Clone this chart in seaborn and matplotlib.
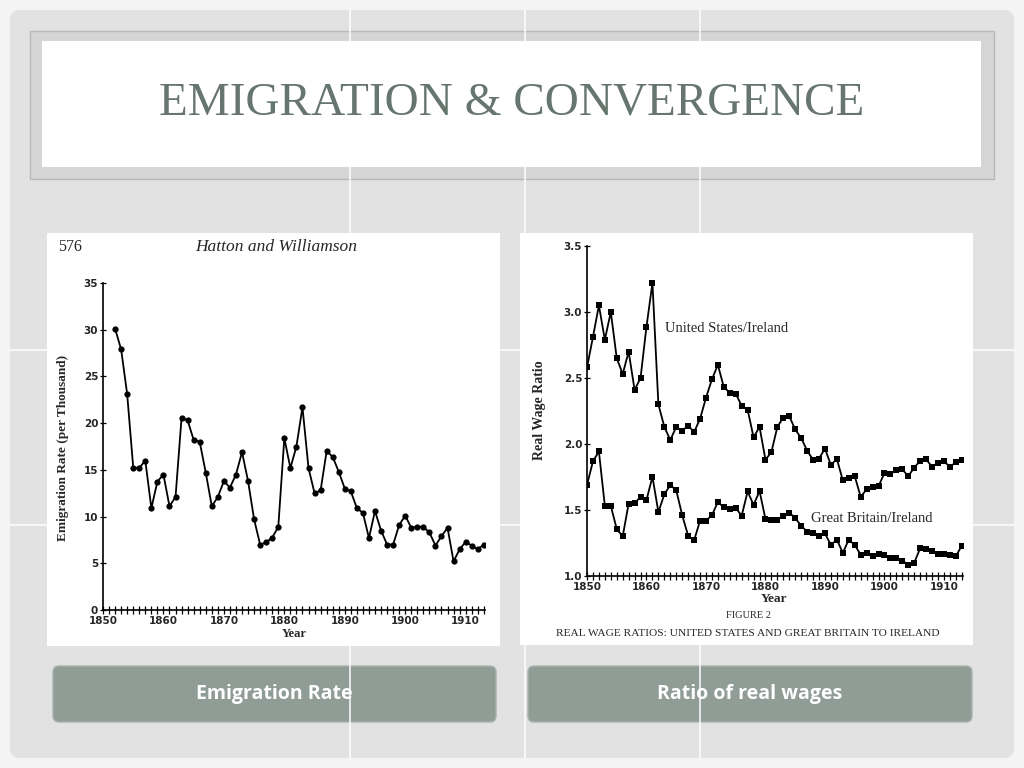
import matplotlib
matplotlib.use("Agg")
import matplotlib.pyplot as plt
import seaborn as sns
from matplotlib.patches import Rectangle, FancyBboxPatch
from matplotlib.ticker import MultipleLocator, FixedLocator

# ---------------- data ----------------
emig_years = list(range(1852, 1914))
emig_rate = [30.1, 27.9, 23.1, 15.25, 15.2, 16.0, 10.9, 13.75, 14.5, 11.1,
             12.1, 20.6, 20.3, 18.2, 18.0, 14.7, 11.1, 12.1, 13.8, 13.1,
             14.5, 16.9, 13.8, 9.7, 7.0, 7.25, 7.75, 8.9, 18.4, 15.2,
             17.5, 21.7, 15.2, 12.5, 12.8, 17.0, 16.4, 14.8, 13.0, 12.7,
             10.9, 10.4, 7.7, 10.6, 8.5, 7.0, 7.0, 9.1, 10.1, 8.8,
             8.9, 8.9, 8.3, 6.9, 7.9, 8.8, 5.2, 6.5, 7.3, 6.9,
             6.5, 7.0]

wage_years = list(range(1850, 1914))
us_ireland = [2.58, 2.81, 3.05, 2.79, 3.00, 2.65, 2.53, 2.70, 2.41, 2.50,
              2.89, 3.22, 2.30, 2.13, 2.03, 2.13, 2.10, 2.14, 2.09, 2.19,
              2.35, 2.49, 2.60, 2.43, 2.39, 2.38, 2.29, 2.26, 2.05, 2.13,
              1.88, 1.94, 2.13, 2.20, 2.21, 2.11, 2.045, 1.95, 1.88, 1.89,
              1.965, 1.84, 1.887, 1.724, 1.741, 1.757, 1.60, 1.656, 1.677, 1.68,
              1.78, 1.774, 1.80, 1.807, 1.757, 1.82, 1.874, 1.884, 1.827, 1.857,
              1.869, 1.827, 1.862, 1.88]
gb_ireland = [1.689, 1.869, 1.944, 1.531, 1.531, 1.356, 1.30, 1.549, 1.55, 1.60,
              1.576, 1.752, 1.484, 1.619, 1.689, 1.649, 1.461, 1.305, 1.27, 1.418,
              1.418, 1.461, 1.561, 1.519, 1.511, 1.516, 1.456, 1.641, 1.538, 1.644,
              1.431, 1.426, 1.426, 1.456, 1.481, 1.438, 1.381, 1.335, 1.328, 1.305,
              1.322, 1.235, 1.275, 1.175, 1.275, 1.235, 1.162, 1.177, 1.155, 1.165,
              1.16, 1.135, 1.135, 1.115, 1.087, 1.10, 1.21, 1.203, 1.19, 1.167,
              1.167, 1.16, 1.15, 1.23]

decade_ticks = [1850, 1860, 1870, 1880, 1890, 1900, 1910]
emig_yticks = [0, 5, 10, 15, 20, 25, 30, 35]
wage_yticks = [1.0, 1.5, 2.0, 2.5, 3.0, 3.5]

slide_title = "EMIGRATION & CONVERGENCE"
button_labels = ["Emigration Rate", "Ratio of real wages"]

# ---------------- figure ----------------
sns.set_theme(style="white")
plt.rcParams["font.family"] = ["DejaVu Sans"]

W, H = 1024, 768
fig = plt.figure(figsize=(10.24, 7.68), dpi=100)
fig.patch.set_facecolor("#f4f4f4")


def box(x0, y0, x1, y1):
    return [x0 / W, 1 - y1 / H, (x1 - x0) / W, (y1 - y0) / H]


bg = fig.add_axes([0, 0, 1, 1], zorder=0)
bg.set_xlim(0, W)
bg.set_ylim(H, 0)
bg.axis("off")

# slide background
bg.add_patch(FancyBboxPatch((10, 10), 1004, 748, boxstyle="round,pad=0,rounding_size=10",
                            facecolor="#e2e2e2", edgecolor="none"))
for xv in (350, 525, 700):
    bg.plot([xv, xv], [10, 758], color="white", lw=1.2, alpha=0.9)
for yv in (350, 525):
    bg.plot([10, 1014], [yv, yv], color="white", lw=1.2, alpha=0.9)

# title box
bg.add_patch(Rectangle((30, 31), 964, 148, facecolor="#d5d5d5", edgecolor="#b9b9b9", lw=1))
bg.add_patch(Rectangle((42, 41), 939, 126, facecolor="white", edgecolor="none"))
bg.text(512, 103, slide_title, ha="center", va="center", fontsize=34,
        family="Liberation Serif", color="#66766e")

# white image panels
bg.add_patch(Rectangle((47, 233), 453, 413, facecolor="white", edgecolor="none"))
bg.add_patch(Rectangle((520, 233), 453, 412, facecolor="white", edgecolor="none"))

# buttons
for (x0, x1), lab in zip([(53, 496), (528, 972)], button_labels):
    bg.add_patch(FancyBboxPatch((x0, 666), x1 - x0, 56, boxstyle="round,pad=0,rounding_size=6",
                                facecolor="#8f9d96", edgecolor="#a9b3ae", lw=1))
    bg.text((x0 + x1) / 2, 694, lab, ha="center", va="center", fontsize=14,
            family="Open Sans", fontweight="bold", color="white")

# left panel texts
bg.text(58, 247, "576", ha="left", va="center", fontsize=11.5, family="Liberation Serif")
bg.text(276, 247, "Hatton and Williamson", ha="center", va="center", fontsize=12.5,
        family="Liberation Serif", style="italic")
bg.text(63, 448, "Emigration Rate (per Thousand)", rotation=90, ha="center", va="center",
        fontsize=9.5, family="Liberation Serif", fontweight="bold")
bg.text(294, 634, "Year", ha="center", va="center", fontsize=9,
        family="Liberation Serif", fontweight="bold")

# right panel texts
bg.text(539, 410, "Real Wage Ratio", rotation=90, ha="center", va="center",
        fontsize=10, family="Liberation Serif", fontweight="bold")
bg.text(774, 599, "Year", ha="center", va="center", fontsize=9.5,
        family="Liberation Serif", fontweight="bold")
bg.text(665, 328, "United States/Ireland", ha="left", va="center", fontsize=10.5,
        family="Liberation Serif")
bg.text(811, 518, "Great Britain/Ireland", ha="left", va="center", fontsize=10.5,
        family="Liberation Serif")
bg.text(748, 615, "FIGURE 2", ha="center", va="center", fontsize=7.5,
        family="Liberation Serif")
bg.text(748, 634, "REAL WAGE RATIOS: UNITED STATES AND GREAT BRITAIN TO IRELAND",
        ha="center", va="center", fontsize=8.2, family="Liberation Serif")


def style_axes(ax, yticks, fmt):
    ax.patch.set_alpha(0)
    sns.despine(ax=ax)
    for s in ("left", "bottom"):
        ax.spines[s].set_linewidth(1.2)
        ax.spines[s].set_color("black")
    ax.xaxis.set_major_locator(FixedLocator(decade_ticks))
    ax.xaxis.set_minor_locator(MultipleLocator(1))
    ax.yaxis.set_major_locator(FixedLocator(yticks))
    ax.set_yticklabels([fmt.format(v) for v in yticks])
    ax.tick_params(axis="x", which="both", direction="inout", length=6, width=0.9,
                   color="black", bottom=True, labelsize=7.5, pad=1)
    ax.tick_params(axis="y", which="major", direction="inout", length=5, width=0.9,
                   color="black", left=True, labelsize=7.5, pad=1)
    for lab in ax.get_xticklabels() + ax.get_yticklabels():
        lab.set_fontweight("bold")
    ax.set_xlabel("")
    ax.set_ylabel("")
    ax.grid(False)


# left chart
ax1 = fig.add_axes(box(103, 283, 485, 610), zorder=2)
sns.lineplot(x=emig_years, y=emig_rate, ax=ax1, color="black", marker="o",
             markersize=4.5, markeredgewidth=0, linewidth=1.3)
ax1.set_xlim(1850, 1913.2)
ax1.set_ylim(0, 35)
style_axes(ax1, emig_yticks, "{:.0f}")

# right chart
ax2 = fig.add_axes(box(587, 246, 963, 576), zorder=2)
sns.lineplot(x=wage_years, y=us_ireland, ax=ax2, color="black", marker="s",
             markersize=4, markeredgewidth=0, linewidth=1.3)
sns.lineplot(x=wage_years, y=gb_ireland, ax=ax2, color="black", marker="s",
             markersize=4, markeredgewidth=0, linewidth=1.3)
ax2.set_xlim(1850, 1913.2)
ax2.set_ylim(1.0, 3.5)
style_axes(ax2, wage_yticks, "{:.1f}")

fig.savefig("out.png", dpi=100, facecolor=fig.get_facecolor())
